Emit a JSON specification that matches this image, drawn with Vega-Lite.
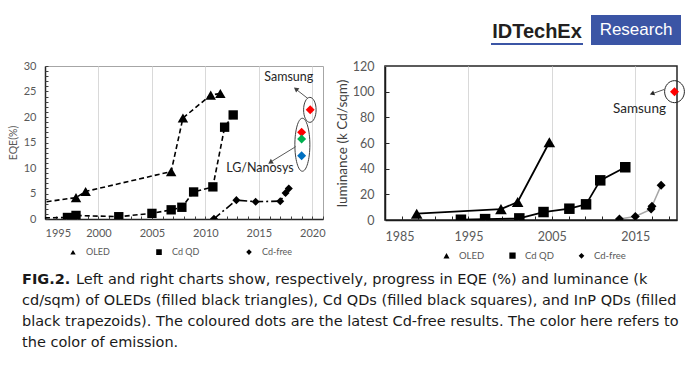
{
  "$schema": "https://vega.github.io/schema/vega-lite/v6.json",
  "background": "white",
  "padding": {"left": 7, "top": 14, "right": 0, "bottom": 0},
  "config": {"font": "Lato", "view": {"strokeWidth": 1}},
  "datasets": {
    "eqe": [
      {"series": "OLED", "year": 1987, "value": 1.0},
      {"series": "OLED", "year": 1997.9, "value": 4.2},
      {"series": "OLED", "year": 1998.8, "value": 5.4},
      {"series": "OLED", "year": 2006.8, "value": 9.3},
      {"series": "OLED", "year": 2007.9, "value": 19.8},
      {"series": "OLED", "year": 2010.5, "value": 24.3},
      {"series": "OLED", "year": 2011.4, "value": 24.6},
      {"series": "Cd QD", "year": 1993.5, "value": 0.15},
      {"series": "Cd QD", "year": 1997.1, "value": 0.3},
      {"series": "Cd QD", "year": 1997.9, "value": 0.7},
      {"series": "Cd QD", "year": 2001.9, "value": 0.45},
      {"series": "Cd QD", "year": 2005.0, "value": 1.1},
      {"series": "Cd QD", "year": 2006.8, "value": 1.8},
      {"series": "Cd QD", "year": 2007.8, "value": 2.3},
      {"series": "Cd QD", "year": 2008.9, "value": 5.3},
      {"series": "Cd QD", "year": 2010.7, "value": 6.3},
      {"series": "Cd QD", "year": 2011.8, "value": 18.0},
      {"series": "Cd QD", "year": 2012.6, "value": 20.4},
      {"series": "Cd-free", "year": 2010.8, "value": 0.05},
      {"series": "Cd-free", "year": 2012.9, "value": 3.7},
      {"series": "Cd-free", "year": 2014.7, "value": 3.4},
      {"series": "Cd-free", "year": 2017.0, "value": 3.5},
      {"series": "Cd-free", "year": 2017.5, "value": 5.1},
      {"series": "Cd-free", "year": 2017.8, "value": 6.0}
    ],
    "eqeNew": [
      {"year": 2019.8, "value": 21.4, "emission": "red"},
      {"year": 2019.0, "value": 17.0, "emission": "red"},
      {"year": 2019.0, "value": 15.7, "emission": "green"},
      {"year": 2019.0, "value": 12.4, "emission": "blue"}
    ],
    "lum": [
      {"series": "OLED", "year": 1988.8, "value": 4.9},
      {"series": "OLED", "year": 1998.9, "value": 8.5},
      {"series": "OLED", "year": 2000.9, "value": 14.0},
      {"series": "OLED", "year": 2004.7, "value": 60.6},
      {"series": "Cd QD", "year": 1994.1, "value": 0.2},
      {"series": "Cd QD", "year": 1997.0, "value": 0.7},
      {"series": "Cd QD", "year": 2001.1, "value": 1.25},
      {"series": "Cd QD", "year": 2004.0, "value": 6.2},
      {"series": "Cd QD", "year": 2007.1, "value": 8.8},
      {"series": "Cd QD", "year": 2009.1, "value": 12.2},
      {"series": "Cd QD", "year": 2010.8, "value": 30.9},
      {"series": "Cd QD", "year": 2013.8, "value": 41.1},
      {"series": "Cd-free", "year": 2013.1, "value": 0.8},
      {"series": "Cd-free", "year": 2015.0, "value": 2.8},
      {"series": "Cd-free", "year": 2016.9, "value": 8.5},
      {"series": "Cd-free", "year": 2017.0, "value": 10.8},
      {"series": "Cd-free", "year": 2018.1, "value": 27.0}
    ],
    "lumNew": [
      {"year": 2019.7, "value": 100, "emission": "red"}
    ],
    "caption": [
      {"line": 1, "text": "Left and right charts show, respectively, progress in EQE (%) and luminance (k"},
      {"line": 2, "text": "cd/sqm) of OLEDs (filled black triangles), Cd QDs (filled black squares), and InP QDs (filled"},
      {"line": 3, "text": "black trapezoids). The coloured dots are the latest Cd-free results. The color here refers to"},
      {"line": 4, "text": "the color of emission."}
    ]
  },
  "spacing": 6,
  "vconcat": [
    {
      "spacing": 8,
      "resolve": {
        "scale": {"shape": "independent", "color": "independent", "fill": "independent"},
        "legend": {"shape": "independent", "color": "independent", "fill": "independent"}
      },
      "hconcat": [
        {
          "width": 278,
          "height": 153,
          "view": {"stroke": "#a6a6a6"},
          "resolve": {"axis": {"x": "independent", "y": "independent"}},
          "layer": [
            {
              "encoding": {
                "x": {"field": "year", "type": "quantitative",
                  "scale": {"domain": [1995, 2021], "nice": false, "zero": false},
                  "axis": {"orient": "bottom", "values": [1995, 2000, 2005, 2010, 2015, 2020], "format": "d", "title": null,
                    "grid": true, "gridColor": "#d9d9d9", "ticks": false, "labelPadding": 8, "labelFontSize": 11,
                    "labelColor": "#595959", "domainColor": "#262626", "domainWidth": 1.5}},
                "y": {"field": "value", "type": "quantitative",
                  "scale": {"domain": [0, 30], "nice": false},
                  "axis": {"orient": "left", "values": [0, 5, 10, 15, 20, 25, 30], "title": "EQE(%)", "titleFontSize": 10.5,
                    "titleFontWeight": "normal", "titleColor": "#595959", "titlePadding": 5, "ticks": false,
                    "labelPadding": 9, "labelFontSize": 11, "labelColor": "#595959", "grid": false,
                    "domainColor": "#262626", "domainWidth": 1.5}}
              },
              "layer": [
                {
                  "data": {"name": "eqe"},
                  "transform": [{"filter": "datum.series !== 'Cd-free'"}],
                  "mark": {"type": "line", "color": "black", "strokeWidth": 1.6, "clip": true, "strokeCap": "butt", "strokeDash": [5, 3]},
                  "encoding": {"detail": {"field": "series", "type": "nominal"}}
                },
                {
                  "data": {"name": "eqe"},
                  "transform": [{"filter": "datum.series === 'Cd-free'"}],
                  "mark": {"type": "line", "color": "black", "strokeWidth": 1.6, "clip": true, "strokeCap": "butt", "strokeDash": [8, 3, 2, 3]}
                },
                {
                  "data": {"name": "eqe"},
                  "mark": {"type": "point", "filled": true, "color": "black", "opacity": 1, "clip": true, "size": 121},
                  "encoding": {
                    "shape": {
                      "condition": [
                        {"test": "datum.series === 'OLED'", "value": "M0,-0.83L0.95,0.83L-0.95,0.83Z"},
                        {"test": "datum.series === 'Cd QD'", "value": "M-0.85,-0.85H0.85V0.85H-0.85Z"}
                      ],
                      "value": "M-0.73,0L0,-0.73L0.73,0L0,0.73Z"
                    }
                  }
                },
                {
                  "data": {"name": "eqe"},
                  "transform": [{"filter": "false"}],
                  "mark": {"type": "point", "filled": true, "color": "black", "stroke": "black", "strokeWidth": 1.5, "opacity": 1},
                  "encoding": {
                    "shape": {"field": "series", "type": "nominal",
                      "scale": {"domain": ["OLED", "Cd QD", "Cd-free"],
                        "range": ["M-1,0H-0.6M0.6,0H1M-0.27,0.22L0,-0.25L0.27,0.22Z", "M-1,0H-0.8M-0.6,0H-0.35M0.35,0H0.6M0.8,0H1M-0.28,-0.28H0.28V0.28H-0.28Z", "M-1,0H-0.25M0.45,0H0.6M-0.28,0L0,-0.28L0.28,0L0,0.28Z"]},
                      "legend": {"orient": "none", "legendX": 17, "legendY": 175, "direction": "horizontal", "columns": 3,
                        "title": null, "symbolSize": 400, "columnPadding": 36, "labelOffset": 2, "labelFontSize": 9,
                        "labelColor": "#595959", "labelFont": "Lato", "symbolStrokeWidth": 1.5,
                        "symbolFillColor": "black", "symbolStrokeColor": "black",
                        "encode": {"symbols": {"stroke": {"value": "black"}, "strokeWidth": {"value": 1.5}}}}}
                  }
                },
                {
                  "data": {"values": [{"year": 2019.77, "value": 21.4}]},
                  "mark": {"type": "point", "shape": "M0,-1A0.5,1,0,1,1,0,1A0.5,1,0,1,1,0,-1Z", "size": 625,
                    "filled": false, "stroke": "#404040", "strokeWidth": 1, "opacity": 1}
                },
                {
                  "data": {"values": [{"year": 2019.07, "value": 14.56}]},
                  "mark": {"type": "point", "shape": "M0,-1A0.283,1,0,1,1,0,1A0.283,1,0,1,1,0,-1Z", "size": 2809,
                    "filled": false, "stroke": "#404040", "strokeWidth": 1, "opacity": 1}
                },
                {
                  "data": {"values": [
                    {"year": 2019.6, "value": 23.6, "year2": 2018.5, "value2": 25.4},
                    {"year": 2018.46, "value": 14.2, "year2": 2016.2, "value2": 11.3}
                  ]},
                  "mark": {"type": "rule", "color": "#595959", "strokeWidth": 1},
                  "encoding": {"x2": {"field": "year2"}, "y2": {"field": "value2"}}
                },
                {
                  "data": {"values": [{"year": 2018.46, "value": 25.5}]},
                  "mark": {"type": "point", "shape": "triangle-up", "angle": 307, "size": 30, "filled": true, "color": "#404040", "opacity": 1}
                },
                {
                  "data": {"values": [{"year": 2016.07, "value": 11.1}]},
                  "mark": {"type": "point", "shape": "triangle-up", "angle": 238, "size": 30, "filled": true, "color": "#404040", "opacity": 1}
                },
                {
                  "data": {"values": [
                    {"label": "Samsung", "year": 2017.8, "value": 27.75},
                    {"label": "LG/Nanosys", "year": 2015.1, "value": 10.0}
                  ]},
                  "mark": {"type": "text", "fontSize": 12.5, "color": "#262626", "align": "center", "baseline": "middle", "font": "Lato"},
                  "encoding": {"text": {"field": "label"}}
                }
              ]
            },
            {
              "data": {"name": "eqeNew"},
              "mark": {"type": "point", "filled": true, "shape": "diamond", "size": 81, "opacity": 1},
              "encoding": {
                "x": {"field": "year", "type": "quantitative",
                  "scale": {"domain": [1995, 2021], "nice": false, "zero": false},
                  "axis": {"orient": "bottom", "values": [1995, 1996, 1997, 1998, 1999, 2000, 2001, 2002, 2003, 2004, 2005, 2006, 2007, 2008, 2009, 2010, 2011, 2012, 2013, 2014, 2015, 2016, 2017, 2018, 2019, 2020, 2021],
                    "labels": false, "domain": false, "grid": false, "ticks": true, "tickSize": 3, "offset": -3,
                    "tickColor": "#404040", "title": null}},
                "y": {"field": "value", "type": "quantitative",
                  "scale": {"domain": [0, 30], "nice": false},
                  "axis": {"orient": "left", "values": [0, 1, 2, 3, 4, 5, 6, 7, 8, 9, 10, 11, 12, 13, 14, 15, 16, 17, 18, 19, 20, 21, 22, 23, 24, 25, 26, 27, 28, 29, 30],
                    "labels": false, "domain": false, "grid": false, "ticks": true, "tickSize": 3, "offset": -3,
                    "tickColor": "#404040", "title": null}},
                "fill": {"field": "emission", "type": "nominal",
                  "scale": {"domain": ["red", "green", "blue"], "range": ["#ff0000", "#00b050", "#0070c0"]}, "legend": null}
              }
            }
          ]
        },
        {
          "width": 292,
          "height": 154,
          "view": {"stroke": "#262626", "strokeWidth": 1.5},
          "resolve": {"axis": {"x": "independent", "y": "independent"}},
          "layer": [
            {
              "encoding": {
                "x": {"field": "year", "type": "quantitative",
                  "scale": {"domain": [1985, 2020], "nice": false, "zero": false},
                  "axis": {"orient": "bottom", "values": [1985, 1995, 2005, 2015], "format": "d", "title": null,
                    "grid": true, "gridColor": "#d9d9d9", "ticks": false, "labelPadding": 10, "labelFontSize": 12.5,
                    "labelColor": "#595959", "domainColor": "#1a1a1a", "domainWidth": 1.5}},
                "y": {"field": "value", "type": "quantitative",
                  "scale": {"domain": [0, 120], "nice": false},
                  "axis": {"orient": "left", "values": [0, 20, 40, 60, 80, 100, 120], "title": "luminance (k Cd/sqm)",
                    "titleFontSize": 13.5, "titleFontWeight": "normal", "titleColor": "#404040", "titlePadding": 3,
                    "ticks": false, "labelPadding": 11, "labelFontSize": 12.5, "labelColor": "#595959", "grid": false,
                    "domainColor": "#1a1a1a", "domainWidth": 1.5}}
              },
              "layer": [
                {
                  "data": {"name": "lum"},
                  "transform": [{"filter": "datum.series !== 'Cd-free'"}],
                  "mark": {"type": "line", "strokeWidth": 1.8, "clip": true, "color": "black"},
                  "encoding": {"detail": {"field": "series", "type": "nominal"}}
                },
                {
                  "data": {"name": "lum"},
                  "transform": [{"filter": "datum.series === 'Cd-free'"}],
                  "mark": {"type": "line", "strokeWidth": 1.5, "clip": true, "color": "#a6a6a6"}
                },
                {
                  "data": {"name": "lum"},
                  "mark": {"type": "point", "filled": true, "color": "black", "opacity": 1, "clip": true, "size": 144},
                  "encoding": {
                    "shape": {
                      "condition": [
                        {"test": "datum.series === 'OLED'", "value": "M0,-0.84L0.97,0.84L-0.97,0.84Z"},
                        {"test": "datum.series === 'Cd QD'", "value": "M-0.875,-0.875H0.875V0.875H-0.875Z"}
                      ],
                      "value": "M-0.75,0L0,-0.75L0.75,0L0,0.75Z"
                    }
                  }
                },
                {
                  "data": {"name": "lum"},
                  "transform": [{"filter": "false"}],
                  "mark": {"type": "point", "filled": true, "color": "black", "stroke": "black", "strokeWidth": 1.5, "opacity": 1},
                  "encoding": {
                    "shape": {"field": "series", "type": "nominal",
                      "scale": {"domain": ["OLED", "Cd QD", "Cd-free"],
                        "range": ["M-1,0H1M-0.29,0.25L0,-0.28L0.29,0.25Z", "M-1,0H1M-0.3,-0.3H0.3V0.3H-0.3Z", "M-1,0H1M-0.27,0L0,-0.27L0.27,0L0,0.27Z"]},
                      "legend": {"orient": "none", "legendX": 50, "legendY": 178, "direction": "horizontal", "columns": 3,
                        "title": null, "symbolSize": 441, "columnPadding": 14, "labelOffset": 1, "labelFontSize": 9.5,
                        "labelColor": "#595959", "labelFont": "Lato", "symbolStrokeWidth": 1.5,
                        "symbolFillColor": "black", "symbolStrokeColor": "black",
                        "encode": {"symbols": {
                          "stroke": {"value": {"expr": "datum.value === 'Cd-free' ? '#a6a6a6' : 'black'"}},
                          "strokeWidth": {"value": 1.5}}}}}
                  }
                },
                {
                  "data": {"values": [{"year": 2019.7, "value": 100}]},
                  "mark": {"type": "point", "shape": "M0,-1A0.9,1,0,1,1,0,1A0.9,1,0,1,1,0,-1Z", "size": 484,
                    "filled": false, "stroke": "#262626", "strokeWidth": 1, "opacity": 1}
                },
                {
                  "data": {"values": [{"year": 2018.5, "value": 101.8, "year2": 2017.2, "value2": 98.8}]},
                  "mark": {"type": "rule", "color": "#595959", "strokeWidth": 1},
                  "encoding": {"x2": {"field": "year2"}, "y2": {"field": "value2"}}
                },
                {
                  "data": {"values": [{"year": 2017.0, "value": 98.4}]},
                  "mark": {"type": "point", "shape": "triangle-up", "angle": 249, "size": 28, "filled": true, "color": "#262626", "opacity": 1}
                },
                {
                  "data": {"values": [{"label": "Samsung", "year": 2015.5, "value": 86.2}]},
                  "mark": {"type": "text", "fontSize": 13.5, "color": "#262626", "align": "center", "baseline": "middle", "font": "Lato"},
                  "encoding": {"text": {"field": "label"}}
                }
              ]
            },
            {
              "data": {"name": "lumNew"},
              "mark": {"type": "point", "filled": true, "shape": "diamond", "size": 81, "opacity": 1},
              "encoding": {
                "x": {"field": "year", "type": "quantitative",
                  "scale": {"domain": [1985, 2020], "nice": false, "zero": false},
                  "axis": {"orient": "bottom", "values": [1987, 1989, 1991, 1993, 1995, 1997, 1999, 2001, 2003, 2005, 2007, 2009, 2011, 2013, 2015, 2017, 2019],
                    "labels": false, "domain": false, "grid": false, "ticks": true, "tickSize": 4, "offset": -4,
                    "tickColor": "#262626", "title": null}},
                "y": {"field": "value", "type": "quantitative",
                  "scale": {"domain": [0, 120], "nice": false},
                  "axis": {"orient": "left", "values": [20, 40, 60, 80, 100],
                    "labels": false, "domain": false, "grid": false, "ticks": true, "tickSize": 4, "offset": -4,
                    "tickColor": "#262626", "title": null}},
                "fill": {"field": "emission", "type": "nominal",
                  "scale": {"domain": ["red"], "range": ["#ff0000"]}, "legend": null}
              }
            },
            {
              "data": {"values": [{}]},
              "mark": {"type": "rect", "color": "#3b55a5"},
              "encoding": {"x": {"value": 206}, "x2": {"value": 296}, "y": {"value": -51}, "y2": {"value": -21}}
            },
            {
              "data": {"values": [{}]},
              "mark": {"type": "text", "text": "Research", "color": "white", "fontSize": 17, "font": "Liberation Sans", "align": "center", "baseline": "middle"},
              "encoding": {"x": {"value": 251}, "y": {"value": -36}}
            },
            {
              "data": {"values": [{}]},
              "mark": {"type": "text", "text": "IDTechEx", "color": "#231f20", "fontSize": 20, "fontWeight": "bold", "font": "Liberation Sans", "align": "center", "baseline": "alphabetic"},
              "encoding": {"x": {"value": 152}, "y": {"value": -28}}
            },
            {
              "data": {"values": [{}]},
              "mark": {"type": "rule", "color": "#3b55a5", "strokeWidth": 2},
              "encoding": {"x": {"value": 106}, "x2": {"value": 198}, "y": {"value": -22}}
            }
          ]
        }
      ]
    },
    {
      "width": 680,
      "height": 84,
      "view": {"stroke": null},
      "data": {"name": "caption"},
      "encoding": {
        "y": {"field": "line", "type": "ordinal", "axis": null, "scale": {"type": "point", "domain": [1, 2, 3, 4], "padding": 0.5}}
      },
      "layer": [
        {
          "data": {"values": [{"line": 1, "text": "FIG.2."}]},
          "mark": {"type": "text", "align": "left", "baseline": "middle", "font": "DejaVu Sans", "fontSize": 14.5, "fontWeight": "bold", "color": "#1a1a1a"},
          "encoding": {"x": {"value": -23}, "text": {"field": "text"}}
        },
        {
          "transform": [{"filter": "datum.line === 1"}],
          "mark": {"type": "text", "align": "left", "baseline": "middle", "font": "DejaVu Sans", "fontSize": 14.5, "color": "#1a1a1a", "dx": 54},
          "encoding": {"x": {"value": -23}, "text": {"field": "text"}}
        },
        {
          "transform": [{"filter": "datum.line > 1"}],
          "mark": {"type": "text", "align": "left", "baseline": "middle", "font": "DejaVu Sans", "fontSize": 14.5, "color": "#1a1a1a"},
          "encoding": {"x": {"value": -23}, "text": {"field": "text"}}
        }
      ]
    }
  ]
}
